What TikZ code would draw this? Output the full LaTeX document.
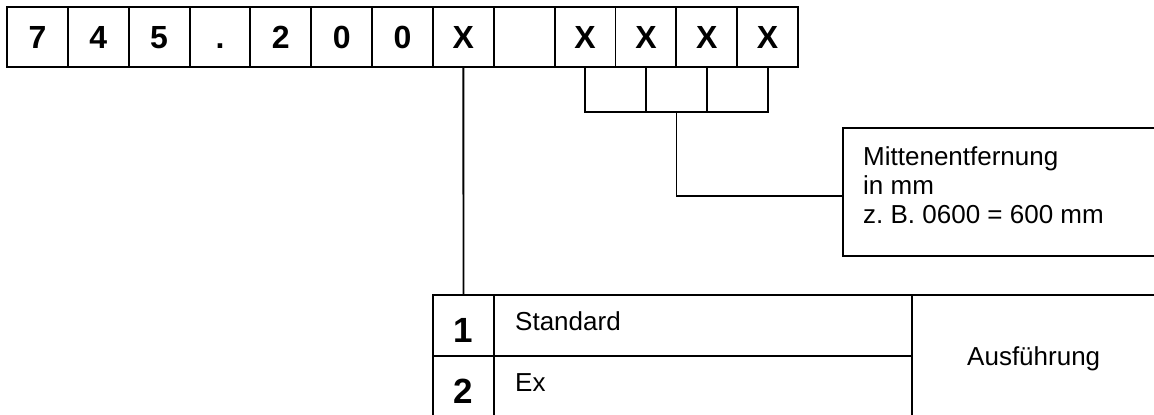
\documentclass[tikz,border=0pt]{standalone}
\usepackage{fontspec}
\setmainfont{Liberation Sans}
\begin{document}
\frenchspacing
\begin{tikzpicture}[x=1pt,y=-1pt,
  ln/.style={line width=1.9pt},
  cell/.style={draw, ln, minimum width=60.85pt, minimum height=60pt, inner sep=0pt,
    font=\fontsize{32}{32}\selectfont\bfseries, text height=23pt, text depth=0pt},
  box/.style={draw, ln, inner sep=0pt, outer sep=0pt},
  big/.style={font=\fontsize{35}{35}\selectfont\bfseries, inner sep=0pt, anchor=base},
  txt/.style={font=\fontsize{26}{29}\selectfont, inner sep=0pt, anchor=base west},
]
\useasboundingbox (0,0) rectangle (1154,415);
\clip (0,0) rectangle (1154,415);
\foreach \t [count=\i] in {7,4,5,.,2,0,0,X,{},X,X,X,X} {
  \node[cell] (c\i) at ({7+60.85*(\i-0.5)}, 37) {\t};
}
% bracket
\coordinate (br) at (676.5,112);
\draw[ln] (c10.south) -- (c10.south |- br) -- (c13.south |- br) -- (c13.south);
\draw[ln] (c11.south) -- (c11.south |- br);
\draw[ln] (c12.south) -- (c12.south |- br);
% Mittenentfernung box
\node[box, anchor=north west, minimum width=340pt, minimum height=128pt] (mbox) at (843,128) {};
\draw[ln] (br) |- ([yshift=-4pt]mbox.west);
\node[txt, anchor=north west, align=left] (mtext) at (863,146) {Mittenentfernung\\in mm\\z. B. 0600 = 600 mm};
% table
\node[box, minimum width=61pt, minimum height=61pt] (t1) at (463.5,325.5) {};
\node[box, minimum width=61pt, minimum height=61pt] (t2) at (463.5,386.5) {};
\node[box, minimum width=418pt, minimum height=61pt] (s1) at (703,325.5) {};
\node[box, minimum width=418pt, minimum height=61pt] (s2) at (703,386.5) {};
\node[box, anchor=north west, minimum width=300pt, minimum height=150pt] (au) at (912,295) {};
\node[big] (n1) at (463.5,342) {1};
\node[big] (n2) at (463.5,403) {2};
\node[txt] (l1) at (515,330) {Standard};
\node[txt] (l2) at (515,391) {Ex};
\node[txt] (l3) at (967,365) {Ausführung};
\draw[ln] (c8.south) -- (t1.north);
\end{tikzpicture}
\end{document}
